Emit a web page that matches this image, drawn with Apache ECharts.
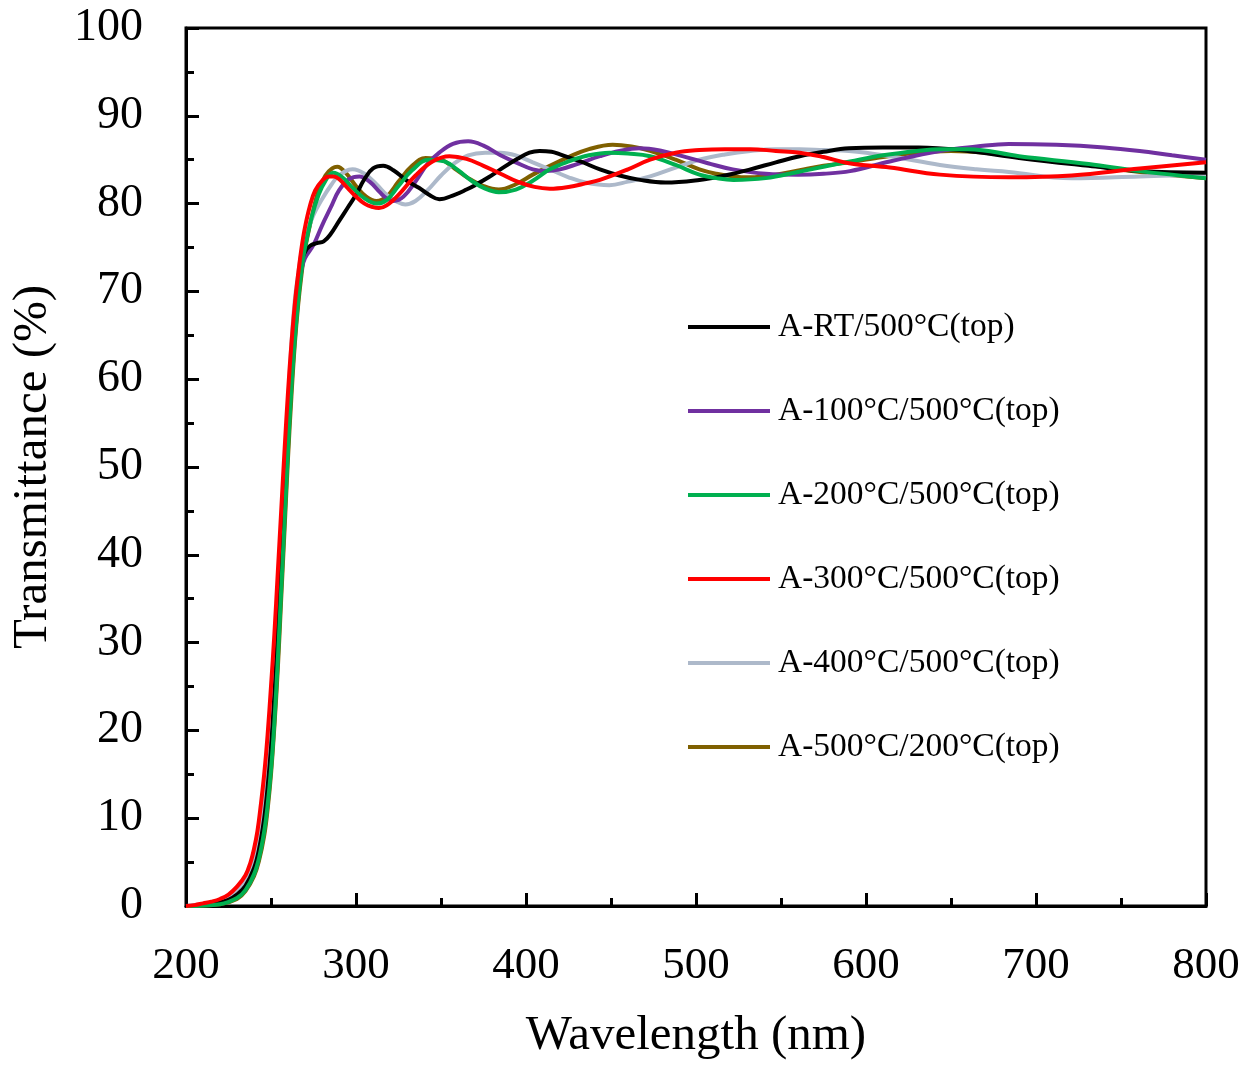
<!DOCTYPE html>
<html>
<head>
<meta charset="utf-8">
<script src="https://cdn.jsdelivr.net/npm/echarts@6/dist/echarts.min.js"></script>
<style>html,body{margin:0;padding:0;background:#fff}#c{width:1254px;height:1066px}</style>
</head>
<body>
<div id="c"></div>
<script>
// ---- data ----
const seriesNames = ['A-RT/500°C(top)','A-100°C/500°C(top)','A-200°C/500°C(top)','A-300°C/500°C(top)','A-400°C/500°C(top)','A-500°C/200°C(top)'];
const xTicks = [200,300,400,500,600,700,800];
const yTicks = [0,10,20,30,40,50,60,70,80,90,100];

const wlRT  = [200,210,220,225,230,235,240,243,246,248,250,252,254,256,258,260,262,264,266,268,270,273,277,281,285,290,295,300,305,310,316,322,330,337,343,349,358,365,370,378,385,395,402,408,415,420,432,443.5,455,467,482,502,517,532,547,561,575,590,610,631,660,690,731,761,800];
const tRT   = [0,0.1,0.4,0.7,1.3,2.3,4.3,6.5,10,13.5,18,24,31,39,47,55,62,67.5,71.5,73.5,74.5,75.2,75.5,75.7,76.5,78,79.5,81,82.8,84,84.3,83.8,82.6,81.8,81,80.5,81,81.6,82.1,83,83.9,85.1,85.8,86,85.9,85.6,84.8,83.9,83.2,82.7,82.4,82.7,83.2,83.9,84.7,85.4,85.9,86.3,86.4,86.4,86,85.2,84.3,83.7,83.5];

const wl100 = [200,220,230,235,240,243,246,248,250,252,254,256,258,260,262,264,266,268,270,275,280,285,290,296,302,308,314,318,322,328,335,342,349,357,366,375,385,394,404,412,420,430,443.5,455,467,480,492,507,521.6,541,560,575,590.6,614,643.5,665,684,712,740,761,780,800];
const t100  = [0,0.3,1,1.9,3.7,5.8,9,12.5,17,23,30,38,46,54,61,66.5,70,72.5,73.8,75.3,77.5,79.5,81.5,82.8,83.1,82.5,81.3,80.6,80.3,80.8,82.5,84.5,85.8,86.8,87.1,86.6,85.5,84.7,83.9,83.7,83.9,84.5,85.4,86,86.3,86,85.4,84.6,83.9,83.4,83.3,83.4,83.7,84.8,86,86.5,86.8,86.7,86.4,86,85.5,85];

const wl200 = [200,220,230,235,240,243,246,248,250,252,254,256,258,260,262,264,266,268,270,274,278,282,286.6,292,298,305,312,318,325,333,343,352,360,368,376,384,394,404,414,425,437,449,460,473,488,502,512,522,541,560,575,590.6,610,630,643.5,660,690,731,761,800];
const t200  = [0,0.2,0.9,1.8,3.6,5.5,8.5,11.5,15.5,21,28,36,44,52,59,64.5,69,72.5,75,78.5,81,82.6,83.5,83,81.8,80.6,80,80.4,82,83.8,85,84.8,83.8,82.6,81.7,81.3,81.6,82.6,83.9,84.8,85.5,85.8,85.7,85.4,84.4,83.3,82.9,82.7,82.9,83.6,84.2,84.8,85.5,86,86.2,86.2,85.4,84.5,83.7,82.9];

const wl300 = [200,205,210,215,220,225,230,235,238,240,242,244,246,248,250,252,254,256,258,260,262,264,266,268,270,273,276,280,284,287,290,295,300,305,310,313.5,318,325,335,345,355,365,375,385,395,405,414,425,435,443.5,460,473,488,502,517,532,547,561,575,590,614,643.5,684,721,761,800];
const t300  = [0,0.1,0.3,0.5,0.8,1.3,2.2,3.5,5,6.5,8.5,11.5,15,19.5,25,31,38,45,52,58.5,64,68.5,72,75,77.3,79.8,81.5,82.6,83.1,83.1,82.8,81.8,80.8,80,79.6,79.5,79.8,81,83.2,84.8,85.4,85.1,84.3,83.4,82.5,81.9,81.7,81.9,82.3,82.7,83.9,85,85.8,86.1,86.2,86.2,86,85.8,85.3,84.6,84.1,83.3,83,83.2,84,84.7];

const wl400 = [200,220,230,235,240,243,246,248,250,252,254,256,258,260,262,264,266,268,270,275,280,285,290,298,305,312,318,324,329,335,342,350,358,366,376,385,394,404,414,425,435,449,460,473,488,502,517,532,547,561,575,590,614,643.5,665,684,721,761,800];
const t400  = [0,0.5,1.7,3,5.5,8,12,16,21,27,34,42,50,57,64,69,72,74.5,76,78.7,80.5,82,83.2,83.9,83.4,82.2,81,80.2,79.9,80.3,81.5,83.2,84.6,85.5,85.8,85.8,85.5,84.7,83.9,83,82.4,82.1,82.5,83.1,84.1,85,85.6,86,86.2,86.2,86.1,86,85.4,84.4,83.9,83.6,82.9,83.1,83.3];

const wl500 = [200,220,230,235,240,243,246,248,250,252,254,256,258,260,262,264,266,268,270,274,278,282,286,289,294,300,306,312,318,325,333,341,350,358,366,375,384,394,404,414,425,437,451,462,473,488,502,512,521.6,532,547,561,575,590,610,630,650,670,690,731,761,800];
const t500  = [0,0.2,0.8,1.7,3.4,5.2,8,11,15,20.5,27,35,43,51,58,64,68.5,72,74.8,78.5,81.5,83.2,84,84.2,83.5,82,80.8,80.3,80.8,82.5,84.3,85.2,85,84,82.9,82,81.6,82.2,83.3,84.3,85.3,86.2,86.7,86.5,86,85,83.9,83.4,83.1,83,83.3,83.8,84.3,84.7,85.3,85.8,86,85.8,85.3,84.4,83.6,82.9];

const colors = ['#000000','#7030A0','#00B050','#FF0000','#ADB9CA','#7F6000'];
const zOrder = [4,3,5,6,2,1];

function pairs(xs, ys){ return xs.map((x,i)=>[x, ys[i]]); }
const allData = [pairs(wlRT,tRT), pairs(wl100,t100), pairs(wl200,t200), pairs(wl300,t300), pairs(wl400,t400), pairs(wl500,t500)];

const font = 'Liberation Serif, Times New Roman, serif';
const chart = echarts.init(document.getElementById('c'), null, {renderer:'canvas'});
chart.setOption({
  animation:false,
  backgroundColor:'#ffffff',
  grid:{left:186,right:48,top:28,bottom:157,show:true,borderColor:'#000',borderWidth:3,backgroundColor:'transparent'},
  legend:{
    orient:'vertical', left:683, top:305, itemWidth:82, itemHeight:34, itemGap:50,
    data: seriesNames.map((n,i)=>({name:n, icon:'path://M0,0 L82,0 L82,4 L0,4 Z', itemStyle:{color:colors[i]}})),
    textStyle:{fontFamily:font, fontSize:33.5, color:'#000', padding:[0,0,0,3]},
    selectedMode:false
  },
  xAxis:{
    type:'value', min:200, max:800, interval:100,
    name:'Wavelength (nm)', nameLocation:'middle', nameGap:106,
    nameTextStyle:{fontFamily:font, fontSize:49, color:'#000'},
    axisLine:{show:true, lineStyle:{color:'#000', width:3}},
    axisTick:{show:true, inside:true, length:13, lineStyle:{color:'#000', width:3}},
    minorTick:{show:true, splitNumber:2, length:8, lineStyle:{color:'#000', width:3}},
    axisLabel:{fontFamily:font, fontSize:45, color:'#000', margin:38, customValues: xTicks},
    splitLine:{show:false}
  },
  yAxis:{
    type:'value', min:0, max:100, interval:10,
    name:'Transmittance (%)', nameLocation:'middle', nameGap:128,
    nameTextStyle:{fontFamily:font, fontSize:49, color:'#000'},
    axisLine:{show:true, lineStyle:{color:'#000', width:3}},
    axisTick:{show:true, inside:true, length:13, lineStyle:{color:'#000', width:3}},
    minorTick:{show:true, splitNumber:2, length:8, lineStyle:{color:'#000', width:3}},
    axisLabel:{fontFamily:font, fontSize:46, color:'#000', margin:43},
    splitLine:{show:false}
  },
  series: seriesNames.map((n,i)=>({
    name:n, type:'line', data:allData[i], showSymbol:false, symbol:'none', smooth:0.4,
    z: zOrder[i],
    lineStyle:{color:colors[i], width:4},
    itemStyle:{color:colors[i]}
  }))
});
</script>
</body>
</html>
